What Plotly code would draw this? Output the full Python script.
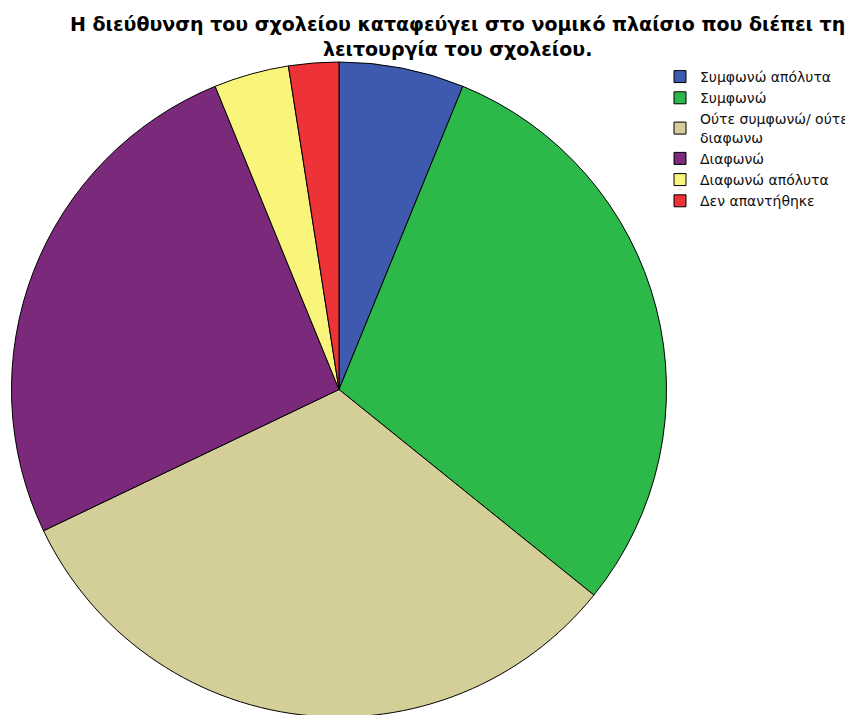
import plotly.graph_objects as go

labels = ["Συμφωνώ απόλυτα", "Συμφωνώ", "Ούτε συμφωνώ/ ούτε<br>διαφωνω", "Διαφωνώ", "Διαφωνώ απόλυτα", "Δεν απαντήθηκε"]
counts = [5, 24, 26, 21, 3, 2]
colors = ["#3D5AAE", "#2DB84A", "#D4CE98", "#7B2A7B", "#F9F57A", "#EE3338"]
title_text = "<b>Η διεύθυνση του σχολείου καταφεύγει στο νομικό πλαίσιο που διέπει τη<br>λειτουργία του σχολείου.</b>"

W, H = 853, 715

fig = go.Figure(go.Pie(
    labels=labels,
    values=counts,
    sort=False,
    direction="clockwise",
    rotation=0,
    marker=dict(colors=colors, line=dict(color="black", width=1)),
    textinfo="none",
    hoverinfo="label+value+percent",
    domain=dict(x=[0, 662 / W], y=[6 / H, 1 - 54 / H]),
))

fig.add_annotation(
    text=title_text,
    xref="paper", yref="paper",
    x=450 / W, xanchor="center",
    y=1 - 3 / H, yanchor="top",
    showarrow=False,
    align="center",
    font=dict(size=19, family="DejaVu Sans, sans-serif", color="black"),
)

fig.update_layout(
    width=W, height=H,
    margin=dict(l=0, r=0, t=0, b=0),
    paper_bgcolor="white",
    plot_bgcolor="white",
    font=dict(family="DejaVu Sans, sans-serif", color="black"),
    legend=dict(
        x=652 / W, xanchor="left",
        y=1 - 53 / H, yanchor="top",
        font=dict(size=14, family="DejaVu Sans, sans-serif", color="#111111"),
        itemwidth=30,
        tracegroupgap=0,
        bgcolor="rgba(0,0,0,0)",
    ),
    showlegend=True,
)

fig.write_html("out.html")
